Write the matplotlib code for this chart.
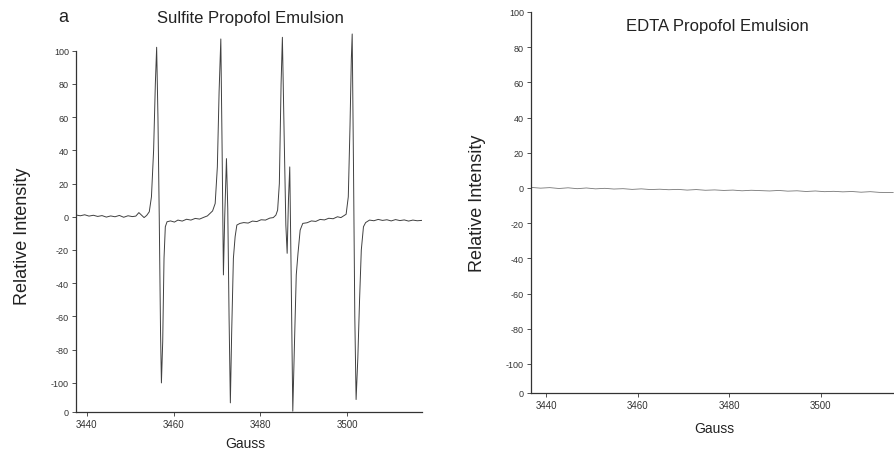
import matplotlib
matplotlib.use("Agg")
import matplotlib.pyplot as plt

plt.rcParams['font.family'] = ['Liberation Sans', 'DejaVu Sans']

# Panel a: sulfite propofol emulsion (EPR spectrum)
sulfite_gauss = [
    3437.6, 3438.5, 3439.5, 3440.5, 3441.5, 3442.5, 3443.5, 3444.5, 3445.5, 3446.5,
    3447.5, 3448.5, 3449.5, 3450.5, 3451.3, 3452.0, 3452.6, 3453.2, 3453.8, 3454.4,
    3454.9, 3455.4, 3455.8, 3456.1, 3456.4, 3456.7, 3457.0, 3457.2, 3457.5, 3457.8,
    3458.1, 3458.5, 3459.3, 3460.2, 3461.0, 3462.0, 3463.0, 3464.0, 3465.0, 3466.0,
    3467.0, 3467.8, 3468.4, 3469.0, 3469.6, 3470.1, 3470.5, 3470.9, 3471.2, 3471.5,
    3471.8, 3472.2, 3472.5, 3472.8, 3473.1, 3473.4, 3473.8, 3474.2, 3474.6, 3475.3,
    3476.2, 3477.2, 3478.2, 3479.2, 3480.2, 3481.2, 3482.2, 3483.0, 3483.6, 3484.0,
    3484.4, 3484.8, 3485.1, 3485.5, 3485.9, 3486.2, 3486.5, 3486.8, 3487.1, 3487.5,
    3487.9, 3488.3, 3488.7, 3489.2, 3489.8, 3490.8, 3491.8, 3492.8, 3493.8, 3494.8,
    3495.8, 3496.8, 3497.8, 3498.6, 3499.2, 3499.8, 3500.3, 3500.7, 3501.0, 3501.2,
    3501.5, 3501.8, 3502.1, 3502.5, 3502.9, 3503.3, 3503.8, 3504.3, 3505.2, 3506.2,
    3507.2, 3508.2, 3509.2, 3510.2, 3511.2, 3512.2, 3513.2, 3514.2, 3515.2, 3516.2,
    3517.2,
]
sulfite_intensity = [
    1.0, 0.6, 1.2, 0.4, 0.9, 0.2, 0.7, -0.2, 0.5, 0.0,
    0.8, -0.3, 0.6, 0.1, 0.4, 2.5, 1.0, -0.5, 0.8, 3.0,
    12, 40, 80, 102, 60, 0, -70, -100, -75, -25,
    -6, -3, -2.5, -3.2, -2.0, -2.6, -1.5, -2.0, -1.0, -1.4,
    -0.3, 0.5, 2.0, 3.5, 8, 30, 75, 107, 40, -35,
    0, 35, 5, -60, -112, -70, -25, -12, -5, -4,
    -3.5, -3.8, -2.6, -2.9, -1.8, -2.0, -0.8, -0.5, 1.0, 4.0,
    20, 80, 108, 50, -5, -22, 10, 30, -30, -117,
    -75, -35, -22, -8, -4, -3.6, -2.5, -2.8, -1.6, -1.9,
    -0.9, -1.2, 0.0, -0.5, 0.5, 1.5, 12, 55, 95, 110,
    30, -60, -110, -85, -50, -20, -6, -3.5, -2.0, -2.4,
    -1.6, -2.2, -1.8, -2.5, -1.7, -2.3, -1.9, -2.6, -2.0, -2.4,
    -2.2,
]

# Panel b: EDTA propofol emulsion (flat, no signal)
edta_gauss = [
    3436.8, 3438.8, 3440.8, 3442.8, 3444.8, 3446.8, 3448.8, 3450.8, 3452.8, 3454.8,
    3456.8, 3458.8, 3460.8, 3462.8, 3464.8, 3466.8, 3468.8, 3470.8, 3472.8, 3474.8,
    3476.8, 3478.8, 3480.8, 3482.8, 3484.8, 3486.8, 3488.8, 3490.8, 3492.8, 3494.8,
    3496.8, 3498.8, 3500.8, 3502.8, 3504.8, 3506.8, 3508.8, 3510.8, 3512.8, 3515.8,
]
edta_intensity = [
    0.3, -0.1, 0.2, -0.3, 0.1, -0.4, 0.0, -0.5, -0.2, -0.6,
    -0.4, -0.8, -0.5, -0.9, -0.7, -1.0, -0.8, -1.2, -0.9, -1.3,
    -1.1, -1.4, -1.2, -1.6, -1.3, -1.5, -1.7, -1.4, -1.8, -1.6,
    -2.0, -1.7, -2.1, -1.9, -2.2, -2.0, -2.4, -2.1, -2.5, -2.6,
]

x_ticks = [3440, 3460, 3480, 3500]
y_ticks = [100, 80, 60, 40, 20, 0, -20, -40, -60, -80, -100]

W, H = 895, 452
fig = plt.figure(figsize=(W / 100, H / 100), dpi=100)


def px_box(x0, y0, x1, y1):
    # pixel box (top-left origin) -> figure fractions
    return [x0 / W, 1 - y1 / H, (x1 - x0) / W, (y1 - y0) / H]


def style_axes(ax, xlim, ylim):
    ax.set_xlim(*xlim)
    ax.set_ylim(*ylim)
    for side in ("top", "right"):
        ax.spines[side].set_visible(False)
    for side in ("left", "bottom"):
        ax.spines[side].set_linewidth(0.9)
        ax.spines[side].set_color("#333333")
    ax.spines["left"].set_bounds(ylim[0], 100)
    ax.set_xticks(x_ticks)
    ax.set_xticklabels([str(t) for t in x_ticks])
    ax.set_yticks(y_ticks + [ylim[0]])
    ax.set_yticklabels([str(t) for t in y_ticks] + ["0"])
    ax.tick_params(axis="both", direction="out", length=3, width=0.6,
                   labelsize=6.5, pad=2, colors="#333333")
    ax.tick_params(axis="x", labelsize=7)


ax1 = fig.add_axes(px_box(76, 30, 422, 413))
ax1.plot(sulfite_gauss, sulfite_intensity, color="#404040", lw=0.7)
style_axes(ax1, (3437.5, 3517.3), (-117.5, 113))

ax2 = fig.add_axes(px_box(531, 10, 895, 394))
ax2.plot(edta_gauss, edta_intensity, color="#777777", lw=0.6)
style_axes(ax2, (3436.7, 3516.2), (-116.5, 101.7))

# texts placed in pixel coordinates of the reference
def ftext(x, y, s, **kw):
    fig.text(x / W, 1 - y / H, s, ha="center", va="center", color="#222222", **kw)

ftext(63, 17, "a", fontsize=13)
ftext(250, 18, "Sulfite Propofol Emulsion", fontsize=12)
ftext(717, 27, "EDTA Propofol Emulsion", fontsize=12)
ftext(23, 236, "Relative Intensity", fontsize=13, rotation=90)
ftext(477, 203, "Relative Intensity", fontsize=13, rotation=90)
ftext(245, 444, "Gauss", fontsize=10)
ftext(714, 429, "Gauss", fontsize=10)

fig.savefig("out.png", dpi=100)
